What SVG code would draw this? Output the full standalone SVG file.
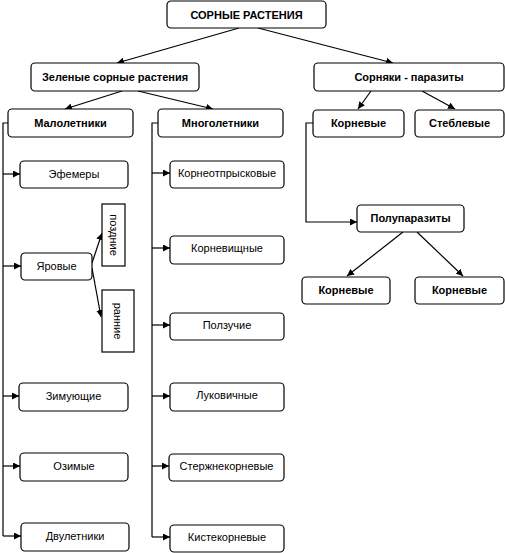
<svg xmlns="http://www.w3.org/2000/svg" width="505" height="553" viewBox="0 0 505 553">
<style>
.b{fill:#fff;stroke:#000;stroke-width:1.2}
.t{font-family:"Liberation Sans",Arial,sans-serif;font-size:11px;fill:#000;text-anchor:middle}
.tb{font-weight:bold}
.c{fill:none;stroke:#000;stroke-width:1.2}
</style>
<defs>
<marker id="a" viewBox="0 0 10 10" refX="10" refY="5" markerWidth="7" markerHeight="7" markerUnits="userSpaceOnUse" orient="auto"><path d="M0,0L10,5L0,10z" fill="#000"/></marker>
</defs>
<rect width="505" height="553" fill="#fff"/>
<g id="connectors">
<path class="c" d="M239,28L117,63" marker-end="url(#a)"/>
<path class="c" d="M258,28L393,63" marker-end="url(#a)"/>
<path class="c" d="M122,91L65,109" marker-end="url(#a)"/>
<path class="c" d="M138,91L213,109" marker-end="url(#a)"/>
<path class="c" d="M371,91L358,109" marker-end="url(#a)"/>
<path class="c" d="M422,91L455,109" marker-end="url(#a)"/>
<path class="c" d="M8,123H3V536"/>
<path class="c" d="M3,174H20" marker-end="url(#a)"/>
<path class="c" d="M3,266H21" marker-end="url(#a)"/>
<path class="c" d="M3,396H19" marker-end="url(#a)"/>
<path class="c" d="M3,466H20" marker-end="url(#a)"/>
<path class="c" d="M3,536H21" marker-end="url(#a)"/>
<path class="c" d="M158,123H152V537"/>
<path class="c" d="M152,173H170" marker-end="url(#a)"/>
<path class="c" d="M152,248H170" marker-end="url(#a)"/>
<path class="c" d="M152,325H170" marker-end="url(#a)"/>
<path class="c" d="M152,396H170" marker-end="url(#a)"/>
<path class="c" d="M152,466H169" marker-end="url(#a)"/>
<path class="c" d="M152,537H170" marker-end="url(#a)"/>
<path class="c" d="M92,263L102,233" marker-end="url(#a)"/>
<path class="c" d="M92,268L101,317" marker-end="url(#a)"/>
<path class="c" d="M313,123H306V222H357" marker-end="url(#a)"/>
<path class="c" d="M403,232L347,276" marker-end="url(#a)"/>
<path class="c" d="M417,232L463,276" marker-end="url(#a)"/>
</g>
<g id="n-root"><rect class="b" x="167" y="1" width="159" height="27" rx="4"/><text class="t tb" x="246.5" y="18.5">СОРНЫЕ РАСТЕНИЯ</text></g>
<g id="n-green"><rect class="b" x="31" y="63" width="168" height="28" rx="4"/><text class="t tb" x="115" y="81">Зеленые сорные растения</text></g>
<g id="n-parasites"><rect class="b" x="314" y="63" width="190" height="28" rx="4"/><text class="t tb" x="409" y="81">Сорняки - паразиты</text></g>
<g id="n-malo"><rect class="b" x="8" y="109" width="125" height="28" rx="4"/><text class="t tb" x="70.5" y="127">Малолетники</text></g>
<g id="n-mnogo"><rect class="b" x="158" y="109" width="125" height="28" rx="4"/><text class="t tb" x="220.5" y="127">Многолетники</text></g>
<g id="n-kornevye"><rect class="b" x="313" y="110" width="91" height="27" rx="4"/><text class="t tb" x="358.5" y="127">Корневые</text></g>
<g id="n-steblevye"><rect class="b" x="415" y="110" width="89" height="27" rx="4"/><text class="t tb" x="459.5" y="127">Стеблевые</text></g>
<g id="n-efemery"><rect class="b" x="20" y="161" width="108" height="27" rx="4"/><text class="t" x="74" y="178">Эфемеры</text></g>
<g id="n-yarovye"><rect class="b" x="21" y="253" width="71" height="27" rx="4"/><text class="t" x="56.5" y="270">Яровые</text></g>
<g id="n-pozdnie"><rect class="b" x="102" y="204" width="23" height="62"/><text class="t" transform="translate(113.5,235) rotate(90)" y="4">поздние</text></g>
<g id="n-rannie"><rect class="b" x="102" y="290" width="32" height="62"/><text class="t" transform="translate(118,321) rotate(90)" y="4">ранние</text></g>
<g id="n-zimuyushchie"><rect class="b" x="19" y="383" width="109" height="28" rx="4"/><text class="t" x="73.5" y="400">Зимующие</text></g>
<g id="n-ozimye"><rect class="b" x="20" y="453" width="108" height="28" rx="4"/><text class="t" x="74" y="470">Озимые</text></g>
<g id="n-dvuletniki"><rect class="b" x="21" y="523" width="108" height="28" rx="4"/><text class="t" x="75" y="540">Двулетники</text></g>
<g id="n-korneotpr"><rect class="b" x="170" y="161" width="114" height="27" rx="4"/><text class="t" x="227" y="177">Корнеотпрысковые</text></g>
<g id="n-kornevishch"><rect class="b" x="170" y="236" width="114" height="28" rx="4"/><text class="t" x="227" y="252">Корневищные</text></g>
<g id="n-polzuchie"><rect class="b" x="170" y="313" width="114" height="27" rx="4"/><text class="t" x="227" y="329">Ползучие</text></g>
<g id="n-lukovichnye"><rect class="b" x="170" y="383" width="114" height="28" rx="4"/><text class="t" x="227" y="399">Луковичные</text></g>
<g id="n-sterzhnekor"><rect class="b" x="169" y="454" width="115" height="27" rx="4"/><text class="t" x="226.5" y="470">Стержнекорневые</text></g>
<g id="n-kistekor"><rect class="b" x="170" y="525" width="114" height="27" rx="4"/><text class="t" x="227" y="541">Кистекорневые</text></g>
<g id="n-poluparazity"><rect class="b" x="357" y="205" width="107" height="27" rx="4"/><text class="t tb" x="410.5" y="222">Полупаразиты</text></g>
<g id="n-kornevye2"><rect class="b" x="302" y="277" width="88" height="27" rx="4"/><text class="t tb" x="346" y="294">Корневые</text></g>
<g id="n-kornevye3"><rect class="b" x="415" y="277" width="89" height="27" rx="4"/><text class="t tb" x="459.5" y="294">Корневые</text></g>
</svg>
